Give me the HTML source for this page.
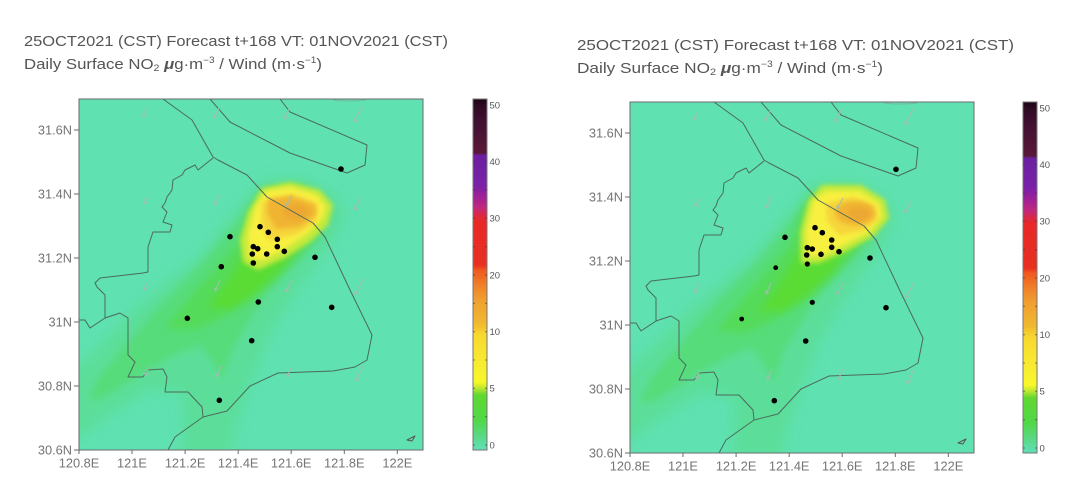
<!DOCTYPE html>
<html><head><meta charset="utf-8"><style>
html,body{margin:0;padding:0;background:#fff;}
svg{display:block;}
text{font-family:"Liberation Sans",sans-serif;}
</style></head><body>
<svg width="1080" height="499" viewBox="0 0 1080 499" xmlns="http://www.w3.org/2000/svg">
<defs>
  <filter id="b6" x="-30%" y="-30%" width="160%" height="160%"><feGaussianBlur stdDeviation="6"/></filter>
  <filter id="b4" x="-30%" y="-30%" width="160%" height="160%"><feGaussianBlur stdDeviation="4"/></filter>
  <filter id="b3" x="-30%" y="-30%" width="160%" height="160%"><feGaussianBlur stdDeviation="2.5"/></filter>
  <clipPath id="clipL"><rect x="79" y="99" width="344" height="351"/></clipPath>
  <clipPath id="clipR"><rect x="630" y="102" width="344" height="351"/></clipPath>
  <linearGradient id="cb" x1="0" y1="0" x2="0" y2="1">
    <stop offset="0" stop-color="#1a0616"/>
    <stop offset="0.02" stop-color="#300a22"/>
    <stop offset="0.06" stop-color="#401030"/>
    <stop offset="0.154" stop-color="#5a1838"/>
    <stop offset="0.16" stop-color="#6a20a0"/>
    <stop offset="0.245" stop-color="#7a20a8"/>
    <stop offset="0.274" stop-color="#9a2098"/>
    <stop offset="0.308" stop-color="#c02880"/>
    <stop offset="0.33" stop-color="#d82848"/>
    <stop offset="0.345" stop-color="#e82828"/>
    <stop offset="0.473" stop-color="#e83020"/>
    <stop offset="0.487" stop-color="#f05820"/>
    <stop offset="0.53" stop-color="#f08028"/>
    <stop offset="0.573" stop-color="#f0a030"/>
    <stop offset="0.638" stop-color="#f0b830"/>
    <stop offset="0.672" stop-color="#f8d830"/>
    <stop offset="0.772" stop-color="#f8f030"/>
    <stop offset="0.806" stop-color="#f8f828"/>
    <stop offset="0.823" stop-color="#c0e830"/>
    <stop offset="0.843" stop-color="#60d830"/>
    <stop offset="0.915" stop-color="#50d848"/>
    <stop offset="0.957" stop-color="#58d880"/>
    <stop offset="1" stop-color="#60e0b8"/>
  </linearGradient>

  <g id="fieldLow">
    <rect x="79" y="99" width="344" height="351" fill="#5fe1b1"/>
    <polygon filter="url(#b6)" fill="#5cde9a" points="79,365 140,305 200,255 245,200 262,180 300,178 335,195 345,215 330,245 305,280 285,310 268,340 252,380 238,420 230,455 182,455 183,395 150,390 110,415 79,438 70,438 70,365"/>
    <polygon filter="url(#b4)" fill="#57dc7a" points="100,400 140,375 175,355 200,345 213,362 222,380 232,350 250,320 270,290 295,262 318,240 330,215 320,195 290,185 262,190 235,225 200,265 165,300 130,340 100,375 88,398"/>
    <polygon filter="url(#b4)" fill="#55db5a" points="165,328 188,300 215,270 240,240 252,205 268,188 300,185 325,200 322,225 300,255 275,280 250,300 225,316 195,330"/>
    <polygon filter="url(#b4)" fill="#5adc36" points="208,308 226,284 244,255 258,230 285,225 300,240 282,268 256,293 232,308"/>
  </g>

  <g id="mapLines" fill="none" stroke="#4c6a5c" stroke-width="1" stroke-linejoin="round">
    <path d="M163,99 L192,120 L213,157 L218,160 L247,175 L267,197 L313,223 L325,237 L350,290 L372,335 L367,360 L355,367 L333,371 L278,373 L250,386 L227,411 L203,417 L175,437 L168,450"/>
    <path d="M210,99 L230,122 L290,153 L347,173 L365,165 L367,145 L290,112 L280,99"/>
    <path d="M213,158 L198,170 L195,165 L185,170 L182,175 L173,180 L172,190 L167,197 L165,203 L162,207 L167,212 L163,222 L172,225 L170,232 L153,232 L148,247 L148,272 L143,273 L100,278 L95,283 L97,287 L105,295 L105,318 L120,313 L128,318 L128,355 L135,362 L128,377 L143,377 L148,370 L163,369 L167,377 L165,392 L188,392 L202,407 L203,417"/>
    <path d="M105,318 L90,328 L85,320 L79,320"/>
    <path d="M333,100 Q348,102 366,100" stroke="#7fa898" opacity="0.7"/>
    <path d="M415,436 L407,440 L412,441 Z" stroke="#555"/>
  </g>

  <g id="arrows" fill="none" stroke="#a3bdb1" stroke-width="1">
    <path d="M147,109 L143,117 M143,117 L143,113.5 M143,117 L146,115"/>
    <path d="M219,108 L214,118 M214,118 L214,114.5 M214,118 L217,116"/>
    <path d="M290,107 L284,119 M284,119 L284,115.5 M284,119 L287,117"/>
    <path d="M362,106 L354,122 M354,122 L354,118 M354,122 L357.5,120"/>
    <path d="M148,196 L144,204 M144,204 L144,200.5 M144,204 L147,202"/>
    <path d="M220,194 L215,205 M215,205 L215,201.5 M215,205 L218,203"/>
    <path d="M292,195 L286,206 M286,206 L286,202.5 M286,206 L289,204"/>
    <path d="M361,197 L354,210 M354,210 L354,206 M354,210 L357.5,208"/>
    <path d="M148,281 L144,290 M144,290 L144,286.5 M144,290 L147,288"/>
    <path d="M220,280 L215,291 M215,291 L215,287.5 M215,291 L218,289"/>
    <path d="M292,280 L286,292 M286,292 L286,288.5 M286,292 L289,290"/>
    <path d="M363,279 L355,295 M355,295 L355,291 M355,295 L358.5,293"/>
    <path d="M149,367 L145,376 M145,376 L145,372.5 M145,376 L148,374"/>
    <path d="M221,366 L216,377 M216,377 L216,373.5 M216,377 L219,375"/>
    <path d="M292,366 L287,377 M287,377 L287,373.5 M287,377 L290,375"/>
    <path d="M363,366 L356,381 M356,381 L356,377 M356,381 L359.5,379"/>
  </g>

  <g id="axes">
    <rect x="79" y="99" width="344" height="351" fill="none" stroke="#6a6a6a" stroke-width="1"/>
    <g stroke="#6a6a6a" stroke-width="1">
      <path d="M74,130 H79 M74,194 H79 M74,258 H79 M74,322 H79 M74,386 H79 M74,450 H79"/>
      <path d="M79,450 V454 M132,450 V454 M185.1,450 V454 M238.2,450 V454 M291.2,450 V454 M344.3,450 V454 M397.3,450 V454"/>
    </g>
    <g font-size="12.8" fill="#747474" text-anchor="end">
      <text x="72" y="134.5">31.6N</text>
      <text x="72" y="198.5">31.4N</text>
      <text x="72" y="262.5">31.2N</text>
      <text x="72" y="326.5">31N</text>
      <text x="72" y="390.5">30.8N</text>
      <text x="72" y="454.5">30.6N</text>
    </g>
    <g font-size="12.8" fill="#747474" text-anchor="middle">
      <text x="79" y="467.5">120.8E</text>
      <text x="132" y="467.5">121E</text>
      <text x="185.1" y="467.5">121.2E</text>
      <text x="238.2" y="467.5">121.4E</text>
      <text x="291.2" y="467.5">121.6E</text>
      <text x="344.3" y="467.5">121.8E</text>
      <text x="397.3" y="467.5">122E</text>
    </g>
  </g>

  <g id="cbar">
    <rect x="473" y="99" width="14" height="351" fill="url(#cb)" stroke="#777" stroke-width="1"/>
    <g stroke="#333" stroke-width="1" opacity="0.55">
      <path d="M473,105 h2 M473,133.3 h2 M473,161.7 h2 M473,190 h2 M473,218.3 h2 M473,246.7 h2 M473,275 h2 M473,303.3 h2 M473,331.7 h2 M473,360 h2 M473,388.3 h2 M473,416.7 h2 M473,445 h2"/>
      <path d="M485,105 h2 M485,133.3 h2 M485,161.7 h2 M485,190 h2 M485,218.3 h2 M485,246.7 h2 M485,275 h2 M485,303.3 h2 M485,331.7 h2 M485,360 h2 M485,388.3 h2 M485,416.7 h2 M485,445 h2"/>
    </g>
    <g font-size="9.5" fill="#555">
      <text x="489.5" y="108.3">50</text>
      <text x="489.5" y="165">40</text>
      <text x="489.5" y="221.6">30</text>
      <text x="489.5" y="278.3">20</text>
      <text x="489.5" y="335">10</text>
      <text x="489.5" y="391.6">5</text>
      <text x="489.5" y="448.3">0</text>
    </g>
  </g>
</defs>

<rect width="1080" height="499" fill="#fff"/>

<!-- Titles -->
<g fill="#555" font-size="15">
  <text x="24" y="46" textLength="424" lengthAdjust="spacingAndGlyphs">25OCT2021 (CST) Forecast t+168 VT: 01NOV2021 (CST)</text>
  <text x="24" y="69" textLength="298" lengthAdjust="spacingAndGlyphs">Daily Surface NO<tspan font-size="9.5" dy="2">2</tspan><tspan dy="-2"> </tspan><tspan font-style="italic" font-weight="bold">μ</tspan>g·m<tspan font-size="9" dy="-6">−3</tspan><tspan dy="6"> / Wind (m·s</tspan><tspan font-size="9" dy="-6">−1</tspan><tspan dy="6">)</tspan></text>
  <text x="577" y="50" textLength="437" lengthAdjust="spacingAndGlyphs">25OCT2021 (CST) Forecast t+168 VT: 01NOV2021 (CST)</text>
  <text x="577" y="73" textLength="306" lengthAdjust="spacingAndGlyphs">Daily Surface NO<tspan font-size="9.5" dy="2">2</tspan><tspan dy="-2"> </tspan><tspan font-style="italic" font-weight="bold">μ</tspan>g·m<tspan font-size="9" dy="-6">−3</tspan><tspan dy="6"> / Wind (m·s</tspan><tspan font-size="9" dy="-6">−1</tspan><tspan dy="6">)</tspan></text>
</g>

<!-- LEFT MAP -->
<g clip-path="url(#clipL)">
  <use href="#fieldLow"/>
  <polygon filter="url(#b3)" fill="#c4ea3a" points="243,262 240,240 248,212 262,188 290,182 320,190 333,205 328,225 310,242 285,258 258,270"/>
  <polygon filter="url(#b3)" fill="#f8f040" points="249,257 248,235 255,208 266,191 290,187 317,195 326,208 321,220 305,235 285,249 263,260"/>
  <polygon filter="url(#b3)" fill="#f6d43a" points="262,202 292,194 318,204 316,222 296,235 268,240 261,222"/>
  <polygon filter="url(#b3)" fill="#f0b432" points="268,199 290,196 314,204 317,214 300,227 276,229 267,213"/>
  <ellipse filter="url(#b3)" fill="#eca830" cx="296" cy="212" rx="13" ry="8"/>
  <use href="#mapLines"/>
  <use href="#arrows"/>
  <g fill="#000">
    <circle cx="341" cy="169" r="2.8"/><circle cx="260" cy="226.7" r="2.8"/><circle cx="268.3" cy="232.3" r="2.8"/>
    <circle cx="230" cy="236.7" r="2.8"/><circle cx="277.3" cy="239.3" r="2.8"/><circle cx="253.3" cy="246.7" r="2.8"/>
    <circle cx="257.7" cy="248.7" r="2.8"/><circle cx="277.3" cy="246.7" r="2.8"/><circle cx="252.3" cy="254" r="2.8"/>
    <circle cx="266.7" cy="254" r="2.8"/><circle cx="284.3" cy="251.3" r="2.8"/><circle cx="315" cy="257.3" r="2.8"/>
    <circle cx="221.3" cy="266.7" r="2.8"/><circle cx="253.3" cy="263" r="2.8"/><circle cx="258.3" cy="302" r="2.8"/>
    <circle cx="331.7" cy="307.3" r="2.8"/><circle cx="187.3" cy="318.3" r="2.8"/><circle cx="251.7" cy="340.7" r="2.8"/>
    <circle cx="219.3" cy="400.3" r="2.8"/>
  </g>
</g>
<use href="#axes"/>
<use href="#cbar"/>

<!-- RIGHT MAP -->
<g clip-path="url(#clipR)">
  <g transform="translate(551,3)">
    <use href="#fieldLow"/>
    <polygon filter="url(#b3)" fill="#c4ea3a" points="250,260 249,230 257,198 271,182 310,182 334,197 338,215 323,233 296,248 268,260"/>
    <polygon filter="url(#b3)" fill="#f8f040" points="256,253 255,228 262,198 275,188 308,188 328,200 331,214 319,228 293,242 270,253"/>
    <polygon filter="url(#b3)" fill="#f6d43a" points="275,200 300,194 324,202 327,216 312,228 288,232 276,218"/>
    <ellipse filter="url(#b3)" fill="#f0b432" cx="304" cy="210" rx="20" ry="12"/>
    <ellipse filter="url(#b3)" fill="#eca830" cx="308" cy="211" rx="11" ry="7"/>
    <use href="#mapLines"/>
    <use href="#arrows"/>
  </g>
  <g fill="#000">
    <circle cx="896" cy="169.3" r="2.8"/><circle cx="815" cy="227.7" r="2.8"/><circle cx="822.3" cy="232.7" r="2.8"/>
    <circle cx="785" cy="237.3" r="2.8"/><circle cx="831.7" cy="240" r="2.8"/><circle cx="807.3" cy="247.7" r="2.8"/>
    <circle cx="812.3" cy="249" r="2.8"/><circle cx="831.7" cy="247.3" r="2.8"/><circle cx="806.7" cy="255" r="2.8"/>
    <circle cx="821" cy="254.3" r="2.8"/><circle cx="839" cy="251.7" r="2.8"/><circle cx="870" cy="258" r="2.8"/>
    <circle cx="775.7" cy="267.7" r="2.4"/><circle cx="807.3" cy="264" r="2.6"/><circle cx="812.3" cy="302.3" r="2.6"/>
    <circle cx="886" cy="307.7" r="2.8"/><circle cx="741.7" cy="319" r="2.4"/><circle cx="805.7" cy="341" r="2.8"/>
    <circle cx="774.3" cy="400.7" r="2.8"/>
  </g>
</g>
<use href="#axes" transform="translate(551,3)"/>
<use href="#cbar" transform="translate(550,3)"/>
</svg>
</body></html>
